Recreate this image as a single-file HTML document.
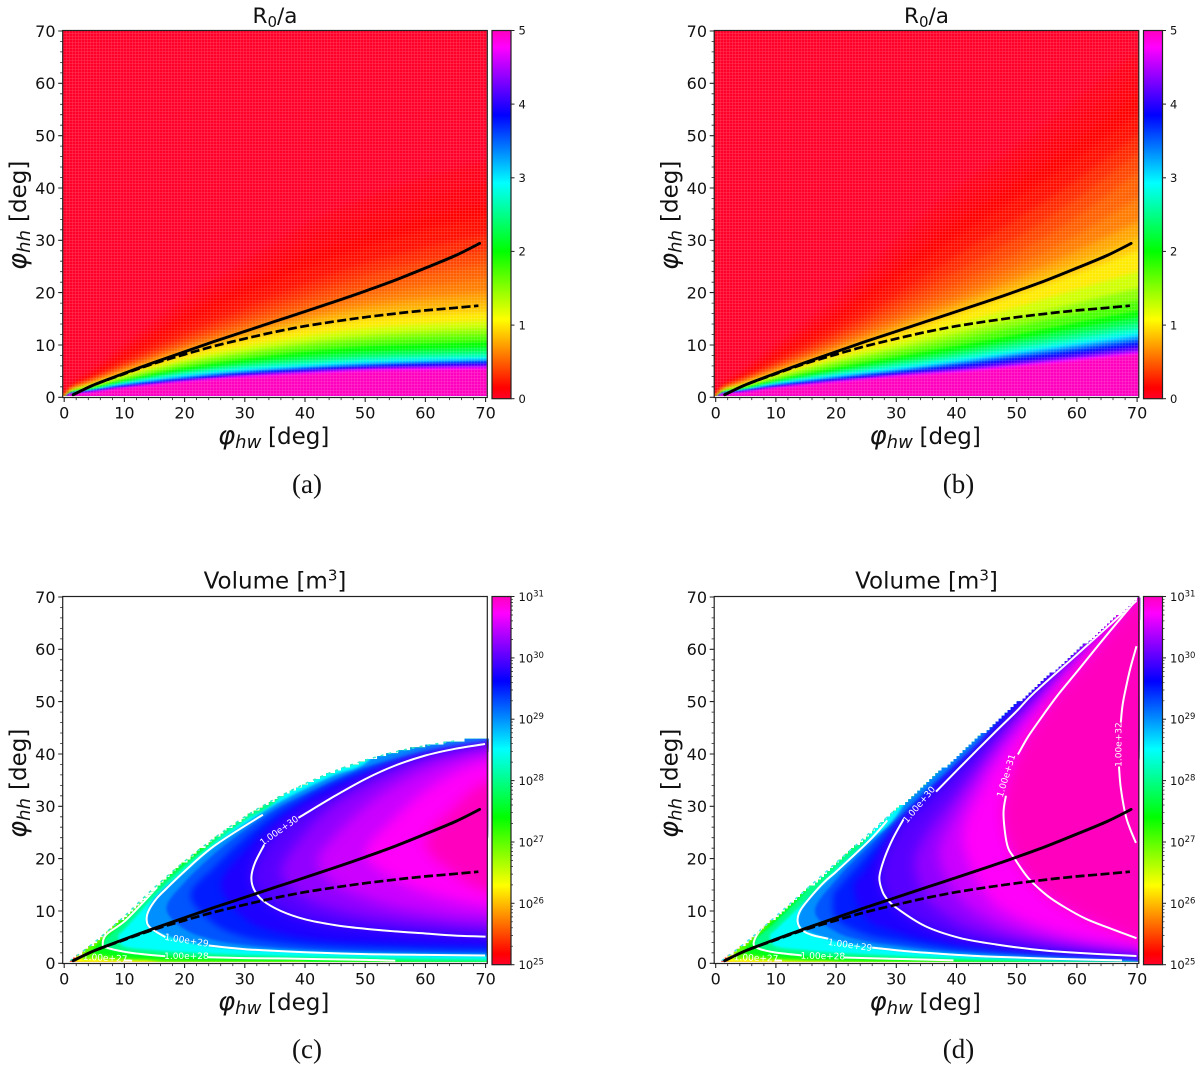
<!DOCTYPE html>
<html lang="en">
<head>
<meta charset="utf-8">
<title>R0/a and Volume parameter maps</title>
<style>
html,body{margin:0;padding:0;background:#fff;}
svg{display:block;font-family:"DejaVu Sans","Liberation Sans",sans-serif;}
</style>
</head>
<body>
<svg id="figure" xmlns="http://www.w3.org/2000/svg" width="1200" height="1065" viewBox="0 0 1200 1065">
<rect x="0" y="0" width="1200" height="1065" fill="#fff"/>
<defs id="defs"></defs>
</svg>
<script>
/* ---------- shared curves (deg) ---------- */
const solidCurveX=[1.5,5,10,15,20,25,30,35,40,45,50,55,60,65,69];
const solidCurveY=[0.5,2.4,4.6,6.7,8.7,10.7,12.6,14.5,16.4,18.3,20.3,22.4,24.7,27.1,29.4];
const dashedCurveX=[1.5,5,10,15,20,25,30,35,40,45,50,55,60,65,68.8];
const dashedCurveY=[0.5,2.4,4.5,6.5,8.2,9.8,11.2,12.5,13.6,14.5,15.3,16,16.6,17.1,17.5];
const axisTicks=[0,10,20,30,40,50,60,70];
const ratioBarTicks=[0,1,2,3,4,5];
const volumeBarExponents=[25,26,27,28,29,30,31];

/* ---------- R0/a maps: top edge (deg) of the region >= level, per column ---------- */
const ratioColumns=[1.5,5,10,20,30,40,50,60,70];
const ratioLevels=[0.06,0.1,0.15,0.2,0.3,0.4,0.5,0.6,0.75,0.875,1,1.25,1.5,1.75,2,2.25,2.5,2.75,3,3.25,3.5,3.75,4,4.25,4.5,4.75,5];
const ratioEdgesA=[
[2.3,5.3,10,19,26,33,38,42,45],
[2.1,4.8,9,17,23.5,30,34.5,38,41],
[1.9,4.3,8,15.5,21.5,27,31,34.5,37],
[1.8,4,7.4,14,19.5,24.5,28.5,32,34.5],
[1.6,3.5,6.5,12,17,21.5,25.5,28.5,31],
[1.5,3.2,6,11,15.5,19.5,23.2,26,28],
[1.4,3,5.5,10.1,14.2,17.8,21,23.5,25.5],
[1.35,2.9,5.2,9.5,13.2,16.5,19.2,21.2,22.8],
[1.3,2.75,4.85,8.9,12.3,15.2,17.5,19,20],
[1.27,2.6,4.6,8.4,11.5,14,16,17.2,18],
[1.25,2.5,4.4,8,10.9,13.1,14.8,15.7,16.3],
[1.15,2.3,4.05,7.2,9.7,11.7,13.2,14,14.6],
[1.1,2.1,3.75,6.6,8.7,10.5,11.8,12.6,13.1],
[1.05,1.95,3.5,6.1,8,9.6,10.7,11.4,11.8],
[1,1.8,3.25,5.6,7.3,8.7,9.7,10.2,10.6],
[0.95,1.7,3.05,5.15,6.7,7.9,8.7,9.2,9.6],
[0.9,1.6,2.9,4.85,6.2,7.2,7.95,8.4,8.75],
[0.85,1.5,2.75,4.55,5.8,6.6,7.35,7.8,8.1],
[0.8,1.4,2.6,4.2,5.35,6.15,6.85,7.25,7.55],
[0.75,1.3,2.45,3.95,5.05,5.8,6.5,6.9,7.2],
[0.7,1.25,2.3,3.7,4.8,5.55,6.2,6.65,6.95],
[0.7,1.2,2.15,3.5,4.6,5.35,5.95,6.4,6.7],
[0.65,1.15,2,3.35,4.4,5.15,5.75,6.2,6.45],
[0.6,1.1,1.95,3.2,4.2,5,5.55,5.95,6.2],
[0.6,1.05,1.85,3.1,4.1,4.8,5.4,5.7,5.95],
[0.55,1,1.8,3,4,4.6,5.2,5.5,5.7],
[0.5,0.9,1.7,2.9,3.8,4.4,5,5.2,5.4]
];
const ratioEdgesB=[
[2.3,5.3,10,19,30,40,48,57,66],
[2.1,4.8,9,17,27,36.5,44.5,53,62],
[1.9,4.3,8,15.5,24.5,33.5,41,49,58],
[1.8,4,7.4,14.2,22.5,30.5,38,45.5,54],
[1.6,3.5,6.5,12.5,19.5,27,34,41.5,50],
[1.5,3.2,6,11.4,17.7,24,30.5,38,46.5],
[1.4,3,5.5,10.5,16,21.5,27.5,34.5,43],
[1.35,2.9,5.2,9.8,14.7,19.5,25,31,38],
[1.3,2.75,4.85,9.1,13.6,18,22.8,28,33.5],
[1.27,2.6,4.6,8.6,12.7,16.8,21.1,25.7,30.5],
[1.25,2.5,4.4,8.2,11.8,15.7,19.6,23.6,28],
[1.15,2.3,4.05,7.5,10.5,13.9,17.2,20.6,24],
[1.1,2.1,3.75,6.8,9.4,12.2,15.1,18,20.8],
[1.05,1.95,3.5,6.2,8.5,10.9,13.5,16,18.5],
[1,1.8,3.25,5.6,7.7,9.8,12,14.3,16.5],
[0.95,1.7,3.05,5.15,7.1,9,11.1,13.2,15.3],
[0.9,1.6,2.9,4.85,6.6,8.3,10.3,12.2,14.2],
[0.85,1.5,2.75,4.5,6.1,7.7,9.5,11.3,13.2],
[0.8,1.4,2.6,4.2,5.6,7.1,8.8,10.5,12.3],
[0.75,1.3,2.45,3.95,5.25,6.75,8.4,10,11.7],
[0.7,1.25,2.3,3.7,5,6.4,8,9.5,11.1],
[0.7,1.2,2.15,3.5,4.75,6.1,7.6,9,10.55],
[0.65,1.15,2,3.35,4.55,5.8,7.2,8.5,10],
[0.6,1.1,1.95,3.2,4.35,5.45,6.75,8.05,9.45],
[0.6,1.05,1.85,3.05,4.2,5.15,6.35,7.6,8.9],
[0.55,1,1.8,2.95,4.05,4.95,6.05,7.3,8.5],
[0.5,0.9,1.7,2.8,3.9,4.7,5.8,7,8.2]
];

/* ---------- Volume maps: log10 V regions. B = reaches the domain edge, _ = not present ---------- */
const _=null, B=99;
const volumeColumns=[5,10,15,20,25,30,35,40,45,50,55,60,65,70];
const volumeLevels=[26.3,27,27.5,28,28.5,29,29.25,29.5,29.75,30,30.25,30.5,30.75,31];
const domainCX=[1,5,10,15,20,25,30,35,40,45,50,55,60,65,70,72];
const domainCY=[0.5,4,9,14.5,19.5,24,28,31.4,34.3,36.8,38.8,40.4,41.6,42.5,43,43.2];
const domainDX=[1,5,10,20,30,40,50,60,70,72];
const domainDY=[0.5,4,9,19.2,29.5,39.7,49.8,59.8,69.8,71.8];
const noseCX=[1.8,3,4.5,6.4,9,13.7,17,21,26,31.1,36,42,50,60];
const noseCY=[0.6,1.3,2.2,3.7,5.2,8.2,10.5,13,15,16.5,17.5,19.5,21,23];
const noseDX=[1.8,3,4.5,6.3,9,13.6,16.5,19.5,23,27.2,33,37,41,47.7];
const noseDY=[0.6,1.3,2.2,3.8,5.2,8,10,12.5,14.5,16.5,19,21,24,28.4];
const upperC=[
[B,B,B,B,B,B,B,B,B,B,B,B,B,B],
[B,B,B,B,B,B,B,B,B,B,B,B,B,B],
[3,8.7,14.5,B,B,B,B,B,B,B,B,B,B,B],
[_,8,14,19,24,B,B,B,B,B,B,B,B,B],
[_,6.5,12.8,18.2,23,27.3,30.8,B,B,B,B,B,B,B],
[_,_,12.3,17.6,22.5,26.6,30.3,33.3,36,38.2,B,B,B,B],
[_,_,_,15.5,21,25.5,29.4,32.3,35,37.4,39,40.4,41.4,42],
[_,_,_,_,18.5,24,28.5,31.6,34.5,36.7,38.5,40,41,41.7],
[_,_,_,_,_,21.5,27,31,34,36.2,38.2,39.8,40.8,41.5],
[_,_,_,_,_,_,25,29.3,32.2,35.2,37.8,39.7,41,41.9],
[_,_,_,_,_,_,_,25,30.5,34,36.8,39,40.3,41.3],
[_,_,_,_,_,_,_,_,24.5,30,34,37,39,40.2],
[_,_,_,_,_,_,_,_,_,_,28,33,36.5,38.5],
[_,_,_,_,_,_,_,_,_,_,_,_,30,34.5]
];
const lowerC=[
[0,0,0,0,0,0,0,0,0,0,0,0,0,0],
[0.9,0.55,0.3,0,0,0,0,0,0,0,0,0,0,0],
[1.8,1.1,0.8,0.6,0.5,0.45,0.4,0.3,0,0,0,0,0,0],
[_,2.1,1.55,1.3,1.1,1,0.9,0.85,0.75,0.65,0.45,0.3,0.25,0.2],
[_,3.2,2.5,2.1,1.8,1.6,1.45,1.3,1.2,1.1,1,0.9,0.8,0.7],
[_,_,6.2,4.2,3.2,2.7,2.4,2.15,1.95,1.8,1.7,1.6,1.55,1.5],
[_,_,_,6.5,4.4,3.5,3,2.7,2.45,2.3,2.2,2.1,2.05,2],
[_,_,_,_,7.5,5,4,3.4,3.1,2.9,2.8,2.7,2.6,2.6],
[_,_,_,_,_,8.5,6,4.8,4.2,3.9,3.7,3.5,3.4,3.3],
[_,_,_,_,_,_,10.8,8.4,7.3,6.7,6.1,5.7,5.35,5.1],
[_,_,_,_,_,_,_,12.5,10.3,9,8.2,7.6,7.1,6.8],
[_,_,_,_,_,_,_,_,15,12.5,10.8,9.8,9,8.6],
[_,_,_,_,_,_,_,_,_,_,16,13.5,12,11],
[_,_,_,_,_,_,_,_,_,_,_,_,17,14]
];
const upperD=[
[B,B,B,B,B,B,B,B,B,B,B,B,B,B],
[B,B,B,B,B,B,B,B,B,B,B,B,B,B],
[3,9,B,B,B,B,B,B,B,B,B,B,B,B],
[_,8,14,B,B,B,B,B,B,B,B,B,B,B],
[_,6.5,12,18,23.5,B,B,B,B,B,B,B,B,B],
[_,_,11.8,17.5,23,28,B,B,B,B,B,B,B,B],
[_,_,_,16,22,27.3,32.8,38,43.5,B,B,B,B,B],
[_,_,_,14,20.5,26.6,32.5,37.8,43.4,B,B,B,B,B],
[_,_,_,_,18,26,32,37.4,43.2,48.8,B,B,B,B],
[_,_,_,_,_,25.3,31.2,36.8,42.7,48.2,53.9,59,64.2,69.4],
[_,_,_,_,_,_,25,32.5,40,47,53,58.8,64.4,69.6],
[_,_,_,_,_,_,_,29,38,45.5,52,58,64.2,69.6],
[_,_,_,_,_,_,_,_,35,43.5,50.5,57.5,64,69.6],
[_,_,_,_,_,_,_,_,_,39.5,49,56,62.8,69.5]
];
const lowerD=[
[0,0,0,0,0,0,0,0,0,0,0,0,0,0],
[0.9,0.55,0.35,0.2,0,0,0,0,0,0,0,0,0,0],
[1.8,1.1,0.8,0.6,0.5,0.4,0.3,0.1,0,0,0,0,0,0],
[_,2.05,1.5,1.2,1.05,0.85,0.7,0.55,0.4,0.3,0.2,0.1,0.05,0],
[_,3.2,2.5,2,1.7,1.45,1.2,0.95,0.8,0.65,0.5,0.4,0.3,0.25],
[_,_,6.2,4.2,3.2,2.5,2,1.6,1.3,1.1,0.9,0.75,0.6,0.5],
[_,_,_,6,4.2,3.4,2.7,2.3,2,1.75,1.5,1.3,1.1,0.95],
[_,_,_,8.5,5.5,4.3,3.4,2.8,2.4,2.1,1.8,1.55,1.3,1.1],
[_,_,_,_,8.5,6,4.5,3.5,3,2.5,2.2,1.9,1.6,1.25],
[_,_,_,_,_,10.6,7.1,5,3.8,3.1,2.5,2,1.7,1.4],
[_,_,_,_,_,_,12.5,8,5.8,4.6,3.7,3,2.5,2.1],
[_,_,_,_,_,_,_,13,8.5,6.2,4.8,3.9,3.2,2.7],
[_,_,_,_,_,_,_,_,13,8.7,6.5,5,4,3.3],
[_,_,_,_,_,_,_,_,_,19.5,13,9.4,6.9,4.8]
];

/* ---------- white contour lines [phi_hw, phi_hh] ---------- */
const contourC30A=[[33.2,22.6],[31.7,19.2],[31.1,16.5],[31.5,14.2],[33,12],[36,10],[40,8.4],[45,7.3],[50,6.6],[55,6.1],[60,5.7],[65,5.3],[70,5.1]];
const contourC30B=[[38.9,27.8],[45,32],[50,35.2],[55,37.8],[60,39.7],[65,41],[69.9,41.9]];
const contourC29A=[[33,28.4],[25,22.5],[20,17.6],[17,14.3],[15.3,12.3],[14,10],[13.7,8.2],[14.3,6.8],[16.8,5]];
const contourC29B=[[24,3.4],[30,2.7],[40,2.1],[50,1.75],[60,1.6],[69.9,1.5]];
const contourC28A=[[15.4,14.5],[13,11.5],[10,8],[7,5.5],[6.4,3.7],[7,3],[10,2.2],[13,1.75],[16.8,1.35]];
const contourC28B=[[23.9,1.15],[30,1],[40,0.85],[50,0.65],[55,0.5]];
const contourC27A=[[3.3,3],[2.6,1.9],[3,1.1]];
const contourC27B=[[9.9,0.55],[11.3,0.5]];
const contourD32A=[[69.9,60.6],[68.9,56.5],[68.2,53],[67.6,49.5],[67.3,46]];
const contourD32B=[[67,37.6],[67.3,33.5],[68.2,27.8],[69.8,23]];
const contourD31A=[[48.2,32],[47.8,28.4],[48.4,22.7],[49.6,20.1],[52,16.2],[55,13],[58,10.7],[61.5,8.5],[65,6.9],[69.9,4.8]];
const contourD31B=[[50.2,39.9],[52,43.5],[54.3,47.3],[57,51.5],[60.2,56],[65,62.8],[69.9,69.5]];
const contourD30A=[[31.2,27.5],[29.5,24],[28,20],[27.2,16.5],[27.6,14],[28.3,12.5],[30,10.6],[34.8,7.1],[40.7,4.8],[46.6,3.6],[52.5,2.7],[58.5,2.1],[69.9,1.4]];
const contourD30B=[[36.6,32.8],[40.7,37.6],[46.6,44.4],[50,48.2],[53,51.8],[60,59],[69.9,69.3]];
const contourD29A=[[28.5,27.3],[26,24],[23,20.7],[20,17.5],[18,15.5],[15.5,12.3],[14,10],[13.6,8],[14.3,6.4],[16,5.4],[18.7,4.7]];
const contourD29B=[[26,3],[30,2.5],[35,2],[40,1.6],[45,1.3],[50,1.1],[55,0.9],[60,0.75],[67.5,0.55]];
const contourD28A=[[9.6,9],[8.2,7.5],[6.9,5.5],[6.3,3.8],[6.8,3],[8,2.5],[10,2.05],[14.3,1.5]];
const contourD28B=[[21.3,1.1],[25,1],[30,0.85],[35,0.7],[39.5,0.55]];
const contourD27A=[[3.2,3.2],[2.7,1.9],[3.2,1.1]];
const contourD27B=[[9.8,0.55],[11,0.5]];

/* ---------- contour labels ---------- */
const labelTextC=['1.00e+30','1.00e+29','1.00e+28','1.00e+27'];
const labelXC=[35.8,20.3,20.3,6.8];
const labelYC=[25.2,4.2,1.2,0.85];
const labelTextD=['1.00e+32','1.00e+31','1.00e+30','1.00e+29','1.00e+28','1.00e+27'];
const labelXD=[67.1,48.4,33.9,22.3,17.8,6.7];
const labelYD=[41.8,35.8,30.2,3.3,1.2,0.85];

/* ---------- drawing ---------- */
const NS='http://www.w3.org/2000/svg';
const svg=document.getElementById('figure');
const defs=document.getElementById('defs');
function mk(tag,parent,attrs){
  const e=document.createElementNS(NS,tag);
  for(const k in attrs)e.setAttribute(k,attrs[k]);
  parent.appendChild(e);
  return e;
}
const cmapT=[0,0.03,0.215,0.4,0.586,0.77,0.954,1];
const cmapR=[255,255,255,0,0,0,255,255];
const cmapG=[0,0,255,255,255,0,0,0];
const cmapB=[41,0,0,0,255,255,255,191];
function colormap(t){
  t=Math.max(0,Math.min(1,t));
  let i=0;
  while(i<cmapT.length-2&&t>cmapT[i+1])i++;
  const f=(t-cmapT[i])/(cmapT[i+1]-cmapT[i]);
  const c=a=>Math.round(a[i]+(a[i+1]-a[i])*f);
  return 'rgb('+c(cmapR)+','+c(cmapG)+','+c(cmapB)+')';
}
function lookup(xs,ys,x){
  if(x<=xs[0])return ys[0];
  for(let i=1;i<xs.length;i++){
    if(x<=xs[i])return ys[i-1]+(ys[i]-ys[i-1])*(x-xs[i-1])/(xs[i]-xs[i-1]);
  }
  return ys[ys.length-1];
}
function openSpline(p){
  let d='M'+p[0][0].toFixed(1)+' '+p[0][1].toFixed(1);
  for(let i=0;i<p.length-1;i++){
    const a=p[Math.max(i-1,0)],b=p[i],c=p[i+1],e=p[Math.min(i+2,p.length-1)];
    d+='C'+(b[0]+(c[0]-a[0])/6).toFixed(1)+' '+(b[1]+(c[1]-a[1])/6).toFixed(1)+' '
      +(c[0]-(e[0]-b[0])/6).toFixed(1)+' '+(c[1]-(e[1]-b[1])/6).toFixed(1)+' '
      +c[0].toFixed(1)+' '+c[1].toFixed(1);
  }
  return d;
}
function closedSpline(p){
  const n=p.length;
  let d='M'+p[0][0].toFixed(1)+' '+p[0][1].toFixed(1);
  for(let i=0;i<n;i++){
    const a=p[(i-1+n)%n],b=p[i],c=p[(i+1)%n],e=p[(i+2)%n];
    d+='C'+(b[0]+(c[0]-a[0])/6).toFixed(1)+' '+(b[1]+(c[1]-a[1])/6).toFixed(1)+' '
      +(c[0]-(e[0]-b[0])/6).toFixed(1)+' '+(c[1]-(e[1]-b[1])/6).toFixed(1)+' '
      +c[0].toFixed(1)+' '+c[1].toFixed(1);
  }
  return d+'Z';
}
/* colour bar gradient */
const grad=mk('linearGradient',defs,{id:'cbar-gradient',x1:0,y1:1,x2:0,y2:0});
cmapT.forEach(t=>mk('stop',grad,{offset:t,'stop-color':colormap(t)}));
/* faint white mesh of the pcolormesh cells */
const pat=mk('pattern',defs,{id:'mesh',width:3,height:3,patternUnits:'userSpaceOnUse'});
mk('path',pat,{d:'M0 0H3M0 0V3',stroke:'#fff','stroke-width':0.9,'stroke-opacity':0.24,fill:'none'});

function drawPanel(cfg){
  const X0=64.2+cfg.dx,Y0=397.3+cfg.dy,SX=6.02,SY=5.233;
  const xs=v=>X0+v*SX, ys=v=>Y0-v*SY;
  const L=62.7+cfg.dx,R=487.3+cfg.dx,T=30.5+cfg.dy,Bt=397.5+cfg.dy;
  const id=cfg.id;
  const g=mk('g',svg,{});
  
  

  /* clip + blur filters */
  const clip=mk('clipPath',defs,{id:'clip-'+id});
  if(cfg.domainX){
    let d='M'+xs(0.9).toFixed(1)+' '+ys(0.3).toFixed(1);
    for(let x=1;x<=70.31;x+=0.5){
      const top=Math.round(lookup(cfg.domainX,cfg.domainY,x)/0.55)*0.55;
      d+='L'+xs(x).toFixed(1)+' '+ys(top).toFixed(1)+'L'+xs(x+0.5).toFixed(1)+' '+ys(top).toFixed(1);
    }
    d+='L'+R+' '+ys(0.3).toFixed(1)+'Z';
    mk('path',clip,{d:d});
  }else{
    mk('rect',clip,{x:L,y:T,width:R-L,height:ys(0.3)-T});
  }
  [1.2,2.5,3.5,6].forEach((sd,i)=>{
    const f=mk('filter',defs,{id:'soft-'+id+'-'+i,filterUnits:'userSpaceOnUse',x:L-40,y:T-40,width:R-L+80,height:Bt-T+80,'color-interpolation-filters':'sRGB'});
    mk('feGaussianBlur',f,{stdDeviation:sd});
  });

  const heat=mk('g',g,{'clip-path':'url(#clip-'+id+')'});
  
  
  mk('rect',heat,{x:L-5,y:T-5,width:R-L+10,height:Bt-T+10,fill:colormap(cfg.baseT)});

  if(cfg.edges){
    cfg.edges.forEach((edge,i)=>{
      const v=ratioLevels[i];
      const pts=[[xs(-3),ys(-3)],[xs(0.6),ys(0.2)]];
      ratioColumns.forEach((c,j)=>pts.push([xs(c),ys(edge[j])]));
      pts.push([xs(75),ys(edge[edge.length-1]+(edge[edge.length-1]-edge[edge.length-2])/2)]);
      const d=openSpline(pts)+'L'+xs(75)+' '+ys(-3)+'Z';
      const soft=v<=0.875?2:(v<=1.75?1:0);
      const band=mk('path',heat,{d:d,fill:colormap(v/5),filter:'url(#soft-'+id+'-'+soft+')'});
      
      
    });
    const mesh=mk('rect',heat,{x:L,y:T,width:R-L,height:Bt-T,fill:'url(#mesh)'});
    
    
  }else{
    volumeLevels.forEach((v,i)=>{
      const up=[],lo=[];
      volumeColumns.forEach((c,j)=>{
        if(cfg.upper[i][j]===_)return;
        const u=cfg.upper[i][j]===B?lookup(cfg.domainX,cfg.domainY,c)+4:cfg.upper[i][j];
        up.push([xs(c),ys(u)]);
        lo.push([xs(c),ys(cfg.lower[i][j]-(cfg.lower[i][j]===0?2:0))]);
      });
      const lastU=up[up.length-1],lastL=lo[lo.length-1];
      const pts=[[xs(cfg.noseX[i]),ys(cfg.noseY[i])]].concat(up);
      pts.push([xs(76),lastU[1]]);
      pts.push([xs(76),lastL[1]]);
      pts.push.apply(pts,lo.slice().reverse());
      const soft=v>=30?3:(v>=29.5?2:0);
      const band=mk('path',heat,{d:closedSpline(pts),fill:colormap((v-25)/6),filter:'url(#soft-'+id+'-'+soft+')'});
      
      
    });
    const edgeLine=[];
    for(let k=0;k<cfg.domainX.length;k++){
      if(cfg.domainX[k]<=cfg.edgeEnd)edgeLine.push([xs(cfg.domainX[k]),ys(cfg.domainY[k])]);
    }
    const rim=mk('path',g,{d:openSpline(edgeLine),fill:'none',stroke:cfg.edgeColor,'stroke-width':1.5,'stroke-dasharray':'3 5'});
    
    
  }

  /* white contours and their labels */
  if(cfg.contours){
    cfg.contours.forEach(seg=>{
      const c=mk('path',g,{d:openSpline(seg.map(p=>[xs(p[0]),ys(p[1])])),fill:'none',stroke:'#fff','stroke-width':2,'clip-path':'url(#clip-'+id+')'});
      
      
    });
    cfg.labelText.forEach((t,i)=>{
      const px=xs(cfg.labelX[i]),py=ys(cfg.labelY[i]);
      const lb=mk('text',g,{x:px,y:py,fill:'#fff','font-size':9,'text-anchor':'middle','dominant-baseline':'central',transform:'rotate('+cfg.labelAngle[i]+' '+px+' '+py+')'});
      lb.textContent=t;
      
      
    });
  }

  /* black reference curves */
  const solid=mk('path',g,{d:openSpline(solidCurveX.map((x,i)=>[xs(x),ys(solidCurveY[i])])),fill:'none',stroke:'#000','stroke-width':2.9,'stroke-linecap':'round'});
  
  
  const dashed=mk('path',g,{d:openSpline(dashedCurveX.map((x,i)=>[xs(x),ys(dashedCurveY[i])])),fill:'none',stroke:'#000','stroke-width':2.7,'stroke-dasharray':'9 3.5'});
  
  

  /* frame and ticks */
  const frame=mk('rect',g,{x:L,y:T,width:R-L,height:Bt-T,fill:'none',stroke:'#222','stroke-width':1.2});
  
  
  let minor='';
  for(let v=0;v<=70;v+=2){
    if(v%10===0)continue;
    minor+='M'+xs(v).toFixed(1)+' '+Bt+'v2.6M'+L+' '+ys(v).toFixed(1)+'h-2.6';
  }
  const minorTicks=mk('path',g,{d:minor,stroke:'#222','stroke-width':0.8,fill:'none'});
  
  
  axisTicks.forEach(v=>{
    const tx=mk('path',g,{d:'M'+xs(v).toFixed(1)+' '+Bt+'v4.5M'+L+' '+ys(v).toFixed(1)+'h-4.5',stroke:'#222','stroke-width':1.1,fill:'none'});
    
    
    const lx=mk('text',g,{x:xs(v),y:418.5+cfg.dy,'text-anchor':'middle','font-size':16,fill:'#111'});
    lx.textContent=v;
    
    
    const ly=mk('text',g,{x:55.5+cfg.dx,y:ys(v)+5.8,'text-anchor':'end','font-size':16,fill:'#111'});
    ly.textContent=v;
    
    
  });

  /* title */
  const title=mk('text',g,{x:(L+R)/2,y:cfg.titleY+cfg.dy,'text-anchor':'middle','font-size':cfg.titleSize,fill:'#111'});
  
  
  cfg.title.forEach(run=>{
    const s=mk('tspan',title,run.attrs||{});
    s.textContent=run.text;
  });

  /* axis labels */
  const xl=mk('text',g,{x:218+cfg.dx,y:444+cfg.dy,'font-size':23,fill:'#111'});
  
  
  const x1=mk('tspan',xl,{'font-style':'italic','font-size':26});x1.textContent='\u03C6';
  const x2=mk('tspan',xl,{'font-style':'italic','font-size':18,dy:4});x2.textContent='hw';
  const x3=mk('tspan',xl,{x:268+cfg.dx,y:444+cfg.dy});x3.textContent='[deg]';
  const yl=mk('text',g,{transform:'translate('+(26+cfg.dx)+' '+(270+cfg.dy+(cfg.dy?2:0))+') rotate(-90)','font-size':23,fill:'#111'});
  
  
  const y1=mk('tspan',yl,{'font-style':'italic','font-size':26});y1.textContent='\u03C6';
  const y2=mk('tspan',yl,{'font-style':'italic','font-size':18,dy:4});y2.textContent='hh';
  const y3=mk('tspan',yl,{x:48,y:0});y3.textContent='[deg]';

  /* colour bar */
  const cl=492+cfg.dx,cr=511+cfg.dx,ct=T,cb=398.7+cfg.dy;
  const bar=mk('rect',g,{x:cl,y:ct,width:cr-cl,height:cb-ct,fill:'url(#cbar-gradient)',stroke:'#222','stroke-width':1.2});
  
  
  if(cfg.edges){
    ratioBarTicks.forEach(v=>{
      const py=cb-(cb-ct)*v/5;
      const t=mk('path',g,{d:'M'+cr+' '+py.toFixed(1)+'h3.5',stroke:'#222','stroke-width':1,fill:'none'});
      
      
      const lb=mk('text',g,{x:cr+7.5,y:py+4.2,'font-size':11.5,fill:'#111'});
      lb.textContent=v;
      
      
    });
  }else{
    let m='';
    for(let e=25;e<31;e++){
      for(let k=2;k<10;k++){
        const py=cb-(cb-ct)*((e+Math.log10(k))-25)/6;
        m+='M'+cr+' '+py.toFixed(1)+'h2';
      }
    }
    const mt=mk('path',g,{d:m,stroke:'#222','stroke-width':0.7,fill:'none'});
    
    
    volumeBarExponents.forEach(e=>{
      const py=cb-(cb-ct)*(e-25)/6;
      const t=mk('path',g,{d:'M'+cr+' '+py.toFixed(1)+'h3.5',stroke:'#222','stroke-width':1,fill:'none'});
      
      
      const lb=mk('text',g,{x:cr+7.5,y:py+4.5,'font-size':11.5,fill:'#111'});
      
      
      const a=mk('tspan',lb,{});a.textContent='10';
      const b=mk('tspan',lb,{dy:-4.5,'font-size':8.5});b.textContent=e;
    });
  }

  /* caption */
  const cap=mk('text',g,{x:307+cfg.dx,y:cfg.capY,'text-anchor':'middle','font-size':27,fill:'#111','font-family':'"Liberation Serif",serif'});
  cap.textContent='('+id+')';
  
  
}

const ratioTitle=[{text:'R'},{text:'0',attrs:{dy:4,'font-size':15}},{text:'/a',attrs:{dy:-4}}];
const volumeTitle=[{text:'Volume [m'},{text:'3',attrs:{dy:-8,'font-size':15}},{text:']',attrs:{dy:8}}];

drawPanel({id:'a',dx:0,dy:0,baseT:0,edges:ratioEdgesA,title:ratioTitle,titleY:23,titleSize:21.5,capY:493});
drawPanel({id:'b',dx:651.5,dy:0,baseT:0,edges:ratioEdgesB,title:ratioTitle,titleY:23,titleSize:21.5,capY:493});
drawPanel({id:'c',dx:0,dy:566,baseT:0.03,domainX:domainCX,domainY:domainCY,noseX:noseCX,noseY:noseCY,upper:upperC,lower:lowerC,
  edgeEnd:65,edgeColor:'#35e8c8',title:volumeTitle,titleY:22.5,titleSize:23,capY:1058,
  contours:[contourC30A,contourC30B,contourC29A,contourC29B,contourC28A,contourC28B,contourC27A,contourC27B],
  labelText:labelTextC,labelX:labelXC,labelY:labelYC,labelAngle:[-35,9,0,3]});
drawPanel({id:'d',dx:651.5,dy:566,baseT:0.03,domainX:domainDX,domainY:domainDY,noseX:noseDX,noseY:noseDY,upper:upperD,lower:lowerD,
  edgeEnd:30,edgeColor:'#45e4f0',title:volumeTitle,titleY:22.5,titleSize:23,capY:1058,
  contours:[contourD32A,contourD32B,contourD31A,contourD31B,contourD30A,contourD30B,contourD29A,contourD29B,contourD28A,contourD28B,contourD27A,contourD27B],
  labelText:labelTextD,labelX:labelXD,labelY:labelYD,labelAngle:[-90,-73,-50,8,1,2]});
</script>
</body>
</html>
